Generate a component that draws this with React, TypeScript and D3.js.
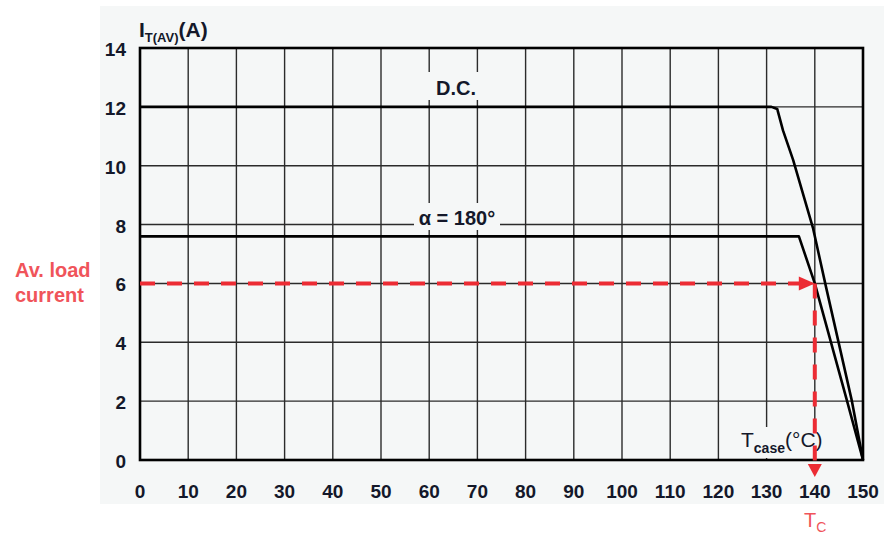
import { useEffect, useRef } from 'react'
import * as d3 from 'd3'

const xTicks = [0, 10, 20, 30, 40, 50, 60, 70, 80, 90, 100, 110, 120, 130, 140, 150]
const yTicks = [0, 2, 4, 6, 8, 10, 12, 14]

// D.C. derating curve
const dcTemp = [0, 131, 132.2, 133.4, 135.5, 139.6, 142.3, 147.7, 150]
const dcCurrent = [12, 12, 11.93, 11.2, 10.2, 7.9, 5.9, 2.0, 0]

// alpha = 180 deg curve
const alphaTemp = [0, 136.7, 140, 146.7, 150]
const alphaCurrent = [7.6, 7.6, 6.0, 2.0, 0]

const loadCurrent = 6
const caseTemp = 140

const W = 888
const H = 539
const FONT = '"Liberation Sans", Arial, Helvetica, sans-serif'
const RED = '#ec2c34'
const NOTE = '#f0545a'
const INK = '#14182a'

export default function App() {
  const ref = useRef<SVGSVGElement | null>(null)

  useEffect(() => {
    if (!ref.current) return
    const svg = d3.select(ref.current)
    svg.selectAll('*').remove()

    const x = d3.scaleLinear().domain([0, 150]).range([140, 863])
    const y = d3.scaleLinear().domain([0, 14]).range([460, 48])

    // panel background
    svg.append('rect').attr('x', 100).attr('y', 6).attr('width', W - 104).attr('height', 498).attr('fill', '#f5f7f7')

    // grid
    const grid = svg.append('g').attr('stroke', '#2b2b2b').attr('stroke-width', 1.4)
    xTicks.slice(1, -1).forEach((t) => {
      grid.append('line').attr('x1', x(t)).attr('x2', x(t)).attr('y1', y(14)).attr('y2', y(0))
    })
    yTicks.slice(1, -1).forEach((t) => {
      grid.append('line').attr('x1', x(0)).attr('x2', x(150)).attr('y1', y(t)).attr('y2', y(t))
    })

    // label backgrounds masking the grid
    const mask = svg.append('g').attr('fill', '#f5f7f7')
    mask.append('rect').attr('x', 420).attr('y', 72).attr('width', 68).attr('height', 28)
    mask.append('rect').attr('x', 414).attr('y', 203).attr('width', 86).attr('height', 27)
    mask.append('rect').attr('x', 738).attr('y', 427).attr('width', 88).attr('height', 31)

    // frame
    svg.append('rect')
      .attr('x', x(0)).attr('y', y(14))
      .attr('width', x(150) - x(0)).attr('height', y(0) - y(14))
      .attr('fill', 'none').attr('stroke', '#000').attr('stroke-width', 2.6)

    const line = d3.line<[number, number]>().x((d) => x(d[0])).y((d) => y(d[1]))
    const curves = [
      dcTemp.map((t, i) => [t, dcCurrent[i]] as [number, number]),
      alphaTemp.map((t, i) => [t, alphaCurrent[i]] as [number, number]),
    ]
    curves.forEach((pts) => {
      svg.append('path').attr('d', line(pts)).attr('fill', 'none').attr('stroke', '#000')
        .attr('stroke-width', 2.6).attr('stroke-linejoin', 'round')
    })

    // curve labels
    svg.append('text').attr('x', 456).attr('y', 95).attr('text-anchor', 'middle')
      .attr('font-family', FONT).attr('font-size', 20).attr('font-weight', 700).attr('fill', INK).text('D.C.')
    svg.append('text').attr('x', 457).attr('y', 225).attr('text-anchor', 'middle')
      .attr('font-family', FONT).attr('font-size', 20).attr('font-weight', 700).attr('fill', INK).text('α = 180°')

    // tick labels
    yTicks.forEach((t) => {
      svg.append('text').attr('x', 126).attr('y', y(t) + 8).attr('text-anchor', 'end')
        .attr('font-family', FONT).attr('font-size', 19).attr('font-weight', 700).attr('fill', INK).text(t)
    })
    xTicks.forEach((t) => {
      svg.append('text').attr('x', x(t)).attr('y', 498).attr('text-anchor', 'middle')
        .attr('font-family', FONT).attr('font-size', 19).attr('font-weight', 700).attr('fill', INK).text(t)
    })

    // axis titles
    const yt = svg.append('text').attr('x', 139).attr('y', 37)
      .attr('font-family', FONT).attr('font-weight', 700).attr('fill', INK).attr('font-size', 21)
    yt.append('tspan').text('I')
    yt.append('tspan').attr('font-size', 13).attr('dy', 5).text('T(AV)')
    yt.append('tspan').attr('dy', -5).text('(A)')

    const xt = svg.append('text').attr('x', 741).attr('y', 447)
      .attr('font-family', FONT).attr('font-weight', 400).attr('fill', INK).attr('font-size', 21)
    xt.append('tspan').text('T')
    xt.append('tspan').attr('font-size', 14).attr('font-weight', 700).attr('dy', 6).text('case')
    xt.append('tspan').attr('dy', -6).text('(°C)')

    // operating point: dashed red guides
    const px = x(caseTemp)
    const py = y(loadCurrent)
    svg.append('line').attr('x1', x(0)).attr('x2', px - 12).attr('y1', py).attr('y2', py)
      .attr('stroke', RED).attr('stroke-width', 4).attr('stroke-dasharray', '15 12')
    svg.append('path').attr('d', `M${px},${py} L${px - 16},${py - 7} L${px - 16},${py + 7} Z`).attr('fill', RED)
    svg.append('line').attr('x1', px).attr('x2', px).attr('y1', py).attr('y2', 466)
      .attr('stroke', RED).attr('stroke-width', 4).attr('stroke-dasharray', '15 12')
    svg.append('path').attr('d', `M${px},477 L${px - 7},464 L${px + 7},464 Z`).attr('fill', RED)

    // red annotations
    const ann = svg.append('g').attr('font-family', FONT).attr('font-size', 20).attr('font-weight', 700).attr('fill', NOTE)
    ann.append('text').attr('x', 15).attr('y', 277).text('Av. load')
    ann.append('text').attr('x', 15).attr('y', 302).text('current')
    const tc = svg.append('text').attr('x', 804).attr('y', 527)
      .attr('font-family', FONT).attr('font-size', 20).attr('fill', NOTE)
    tc.append('tspan').text('T')
    tc.append('tspan').attr('font-size', 14).attr('dy', 5).text('C')
  }, [])

  return (
    <svg
      ref={ref}
      width={W}
      height={H}
      style={{ position: 'absolute', left: 0, top: 0, display: 'block', background: '#fff' }}
    />
  )
}
